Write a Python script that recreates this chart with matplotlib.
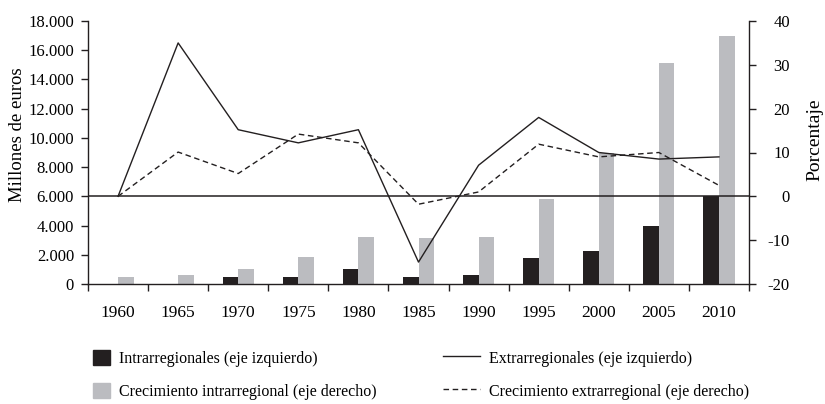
import matplotlib
matplotlib.use("Agg")
import matplotlib.pyplot as plt
from matplotlib.patches import Patch
from matplotlib.lines import Line2D
from matplotlib.ticker import FuncFormatter
import numpy as np

plt.rcParams['font.family'] = ['Liberation Serif', 'DejaVu Serif']
plt.rcParams['axes.unicode_minus'] = False

years = ['1960', '1965', '1970', '1975', '1980', '1985', '1990', '1995', '2000', '2005', '2010']
# millones de euros (eje izquierdo)
intra = [0, 0, 500, 500, 1000, 500, 600, 1800, 2250, 3950, 6000]
crec_intra_bar = [500, 600, 1000, 1830, 3200, 3150, 3200, 5800, 9000, 15150, 16950]
# porcentaje (eje derecho)
extra = [0, 35, 15.2, 12.2, 15.2, -15, 7.1, 18, 10, 8.5, 9]
crec_extra = [0, 10.1, 5.2, 14.2, 12.2, -1.8, 1, 11.9, 9, 10, 2.5]

labels = ['Intrarregionales (eje izquierdo)',
          'Crecimiento intrarregional (eje derecho)',
          'Extrarregionales (eje izquierdo)',
          'Crecimiento extrarregional (eje derecho)']

black = '#231f20'
grey = '#bbbcc0'
dash = (0, (4, 2.6))

fig = plt.figure(figsize=(8.25, 4.04), dpi=100)
ax = fig.add_axes([88/825, 1-284/404, 661/825, 263/404])
ax2 = ax.twinx()

x = np.arange(len(years))
w = 0.26
ax.bar(x - w/2, intra, width=w, color=black, linewidth=0)
ax.bar(x + w/2, crec_intra_bar, width=w, color=grey, linewidth=0)

ax2.plot(x, extra, color=black, lw=1)
ax2.plot(x, crec_extra, color=black, lw=1, linestyle=dash)
ax2.axhline(0, color=black, lw=1.1)

ax.set_xlim(-0.5, len(years) - 0.5)
ax.set_ylim(0, 18000)
ax2.set_ylim(-20, 40)

ax.set_yticks(np.arange(0, 18001, 2000))
ax.yaxis.set_major_formatter(FuncFormatter(lambda v, p: f'{int(v):,}'.replace(',', '.')))
ax2.set_yticks(np.arange(-20, 41, 10))

ax.set_xticks(np.arange(-0.5, len(years), 1))
ax.set_xticklabels([])
ax.set_xticks(x, minor=True)
ax.set_xticklabels(years, minor=True)
ax.tick_params(axis='x', which='major', length=5, width=1, direction='out', color=black)
ax.tick_params(axis='x', which='minor', length=0, pad=15, labelsize=12.5)
ax.tick_params(axis='y', length=5, width=1, direction='out', pad=5, labelsize=12, color=black)
ax2.tick_params(axis='y', length=5, width=1, direction='out', pad=24.5, labelsize=12, color=black)
for t in ax2.get_yticklabels():
    t.set_horizontalalignment('right')

for a in (ax, ax2):
    a.spines['top'].set_visible(False)
    for s in ('left', 'right', 'bottom'):
        a.spines[s].set_linewidth(1)
        a.spines[s].set_color(black)
ax.spines['right'].set_visible(False)
ax2.spines['left'].set_visible(False)
ax2.spines['bottom'].set_visible(False)

ax.set_ylabel('Millones de euros', fontsize=13.5, va='center', ha='center')
ax.yaxis.set_label_coords(-0.106, 0.567)
ax2.set_ylabel('Porcentaje', fontsize=14, rotation=90, va='center', ha='center')
ax2.yaxis.set_label_coords(1.1, 0.549)

h1 = [Patch(color=black), Patch(color=grey)]
h2 = [Line2D([], [], color=black, lw=1), Line2D([], [], color=black, lw=1, linestyle=dash)]
leg1 = fig.legend(h1, labels[:2], loc='upper left', bbox_to_anchor=(93/825, 1-350/404),
                  frameon=False, borderpad=0, borderaxespad=0, fontsize=11.5,
                  handlelength=1.05, handleheight=1.05, handletextpad=0.6, labelspacing=1.0)
leg2 = fig.legend(h2, labels[2:], loc='upper left', bbox_to_anchor=(443/825, 1-350/404),
                  frameon=False, borderpad=0, borderaxespad=0, fontsize=11.5,
                  handlelength=2.3, handleheight=1.05, handletextpad=0.6, labelspacing=1.0)

fig.savefig('out.png', dpi=100)
